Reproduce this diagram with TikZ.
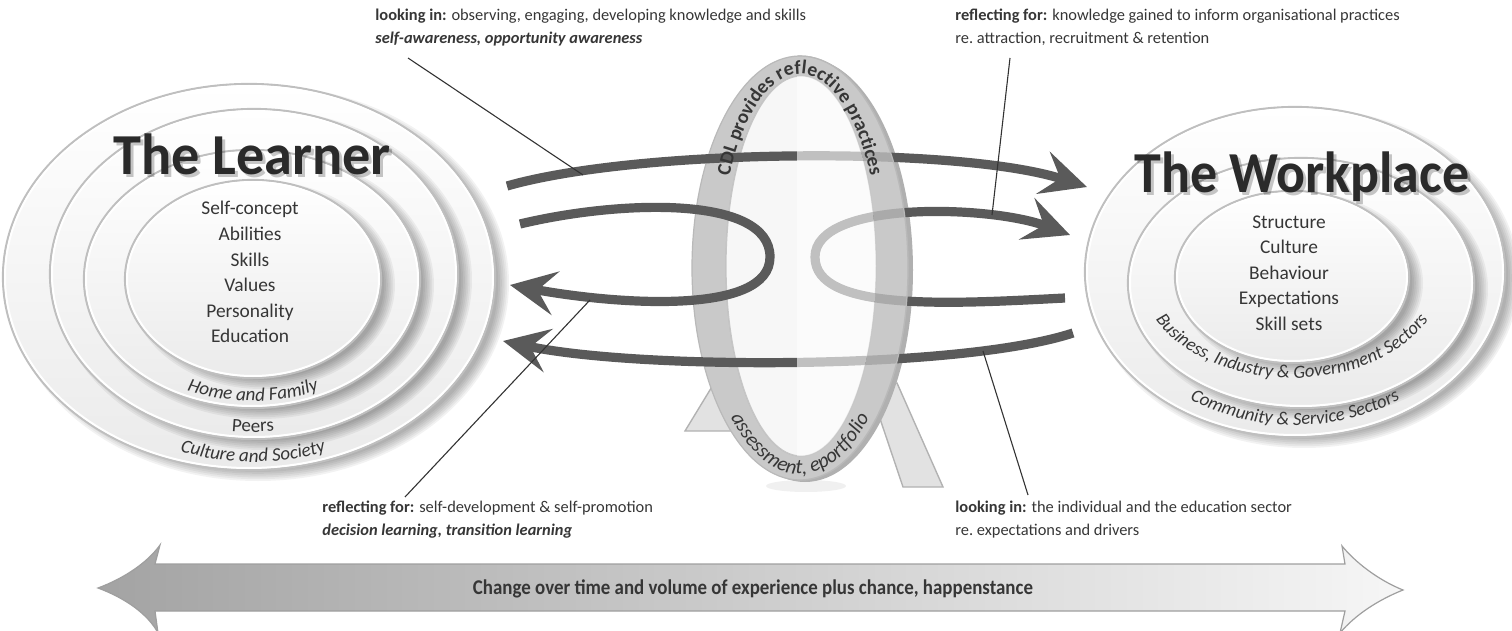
\documentclass[tikz,border=0pt]{standalone}
\usepackage{fontspec}
\setmainfont{Carlito}
\usetikzlibrary{arrows.meta,decorations.text}
\definecolor{arr}{HTML}{5A5A5A}
\definecolor{txt}{HTML}{363636}
\definecolor{ttl}{HTML}{2A2A2A}
\definecolor{ringc}{HTML}{C9C9C9}
\definecolor{legc}{HTML}{E2E2E2}
\newcommand\myring[4]{%
  \foreach \k in {0,...,6}{\fill[black,opacity=0.05] ({#1+9},{#2+6}) ellipse[x radius={#3+5-\k*1.8}, y radius={#4+5-\k*1.8}];}
  \fill[top color=white, bottom color=gray!16, draw=gray!50, line width=1.1pt] (#1,#2) ellipse[x radius=#3, y radius=#4];
  \draw[white, line width=1pt] (#1,#2) ellipse[x radius={#3-2}, y radius={#4-2}];
}
\begin{document}
\begin{tikzpicture}[x=0.5pt,y=-0.5pt,
  flow/.style={draw=arr, line width=4.6pt, -{Stealth[length=23pt,width=22pt,inset=9pt]}},
  lead/.style={draw=black!80, line width=0.55pt},
  lbl/.style={font=\fontsize{8.2}{11.5}\selectfont, text=txt, inner sep=0pt, anchor=base west},
  inlist/.style={font=\fontsize{9.7}{12.8}\selectfont, text=txt, inner sep=0pt, anchor=base},
  title/.style={font=\fontsize{29}{30}\selectfont\bfseries, text=ttl, inner sep=0pt, anchor=base}]
\useasboundingbox (0,0) rectangle (1512,631);

% ---------- The Learner ----------
\myring{249}{277}{246}{193}
\myring{254}{274}{204}{165}
\myring{252}{279}{168}{129}
\myring{253}{279}{128}{99}
\node[title, text=black, opacity=0.22] (learnersh) at (255,178) {\scalebox{0.97}[1]{The Learner}};
\node[title] (learner) at (252,175) {\scalebox{0.97}[1]{The Learner}};
\foreach \t [count=\i] in {Self-concept,Abilities,Skills,Values,Personality,Education}
  \node[inlist] (l\i) at (250,{215+25.6*(\i-1)}) {\t};
\path[decorate, decoration={text along path, text align=center,
  text={|\fontsize{9.5}{10}\selectfont\itshape\color{txt}|Home and Family}}]
  (253,279) ++(140:160 and 122) arc[start angle=140, end angle=40, x radius=160, y radius=122];
\path[decorate, decoration={text along path, text align=center,
  text={|\fontsize{9.5}{10}\selectfont\color{txt}|Peers}}]
  (253,279) ++(140:185 and 153) arc[start angle=140, end angle=40, x radius=185, y radius=153];
\path[decorate, decoration={text along path, text align=center,
  text={|\fontsize{9.5}{10}\selectfont\itshape\color{txt}|Culture and Society}}]
  (253,279) ++(140:215 and 183) arc[start angle=140, end angle=40, x radius=215, y radius=183];

% ---------- The Workplace ----------
\myring{1295}{272}{210}{165}
\myring{1301}{283}{173}{125}
\myring{1292}{277}{117}{86}
\node[title, text=black, opacity=0.22] (worksh) at (1305,196) {\scalebox{0.93}[1]{The Workplace}};
\node[title] (work) at (1302,193) {\scalebox{0.93}[1]{The Workplace}};
\foreach \t [count=\i] in {Structure,Culture,Behaviour,Expectations,Skill sets}
  \node[inlist] (w\i) at (1289,{228+25.5*(\i-1)}) {\t};
\path[decorate, decoration={text along path, text align=center,
  text={|\fontsize{9.3}{10}\selectfont\itshape\color{txt}|Business, Industry {\&} Government Sectors}}]
  (1292,277) ++(170:150 and 101) arc[start angle=170, end angle=10, x radius=150, y radius=101];
\path[decorate, decoration={text along path, text align=center,
  text={|\fontsize{9.3}{10}\selectfont\itshape\color{txt}|Community {\&} Service Sectors}}]
  (1295,285) ++(160:182 and 140) arc[start angle=160, end angle=20, x radius=182, y radius=140];

% ---------- The mirror ----------
\draw[fill=legc, draw=gray!60, line width=0.7pt] (685,431) -- (713,385) -- (745,385) -- (745,431) -- cycle;
\draw[fill=legc, draw=gray!60, line width=0.7pt] (868,383) -- (897,383) -- (943,487) -- (903,487) -- cycle;
\fill[black, opacity=0.06] (806,486) ellipse[x radius=40, y radius=6];
\fill[gray!62] (805,270) ellipse[x radius=108, y radius=212];
\fill[ringc, even odd rule, draw=gray!55, line width=0.6pt] (800,268) ellipse[x radius=108, y radius=212] (801,266) ellipse[x radius=75, y radius=190];
\fill[white!94!gray, draw=gray!45, line width=0.6pt] (801,266) ellipse[x radius=75, y radius=190];

% ---------- Flow arrows ----------
\coordinate (t0) at (507,186);   \coordinate (t1) at (1087,187);
\coordinate (p0) at (520,224);   \coordinate (pt) at (770,257); \coordinate (p1) at (510,285);
\coordinate (q0) at (1065,298);  \coordinate (qt) at (815,257); \coordinate (q1) at (1070,235);
\coordinate (b0) at (1073,333);  \coordinate (b1) at (503,341);
\draw[flow] (t0) .. controls (640,148) and (960,146) .. (t1);
\draw[flow] (p0) .. controls (620,200) and (770,195) .. (pt) .. controls (770,315) and (620,305) .. (p1);
\draw[flow] (q0) .. controls (950,304) and (815,312) .. (qt) .. controls (815,200) and (990,205) .. (q1);
\draw[flow] (b0) .. controls (960,370) and (640,370) .. (b1);
\begin{scope}
  \clip (797,0) rectangle (1000,631);
  \fill[white, opacity=0.62] (801,266) ellipse[x radius=75, y radius=190];
  \fill[ringc, opacity=0.72, even odd rule] (800,268) ellipse[x radius=108, y radius=212] (801,266) ellipse[x radius=75, y radius=190];
  \draw[gray!55, line width=0.6pt] (800,268) ellipse[x radius=108, y radius=212];
\end{scope}
\path[decorate, decoration={text along path, text align=center,
  text={|\fontsize{9.8}{10}\selectfont\bfseries\color{txt}|CDL provides reflective practices}}]
  (800,267) ++(-170:80 and 193) arc[start angle=-170, end angle=-10, x radius=80, y radius=193];
\path[decorate, decoration={text along path, text align=center,
  text={|\fontsize{10.3}{11}\selectfont\itshape\color{txt}|assessment, eportfolio}}]
  (800,267) ++(165:101 and 207) arc[start angle=165, end angle=15, x radius=101, y radius=207];

% ---------- Labels and leaders ----------
\node[lbl] (li1) at (375,21) {\textbf{looking in:} observing, engaging, developing knowledge and skills};
\node[lbl] (li2) at (375,44) {\textbf{\itshape self-awareness, opportunity awareness}};
\node[lbl] (rf1) at (955,21) {\textbf{reflecting for:} knowledge gained to inform organisational practices};
\node[lbl] (rf2) at (955,44) {re.\ attraction, recruitment \& retention};
\node[lbl] (rf3) at (322,512) {\textbf{reflecting for:} self-development \& self-promotion};
\node[lbl] (rf4) at (322,535) {\textbf{\itshape decision learning, transition learning}};
\node[lbl] (li3) at (955,512) {\textbf{looking in:} the individual and the education sector};
\node[lbl] (li4) at (955,535) {re.\ expectations and drivers};
\coordinate (c1a) at (408,58);   \coordinate (c1b) at (583,175);
\coordinate (c2a) at (1010,58);  \coordinate (c2b) at (992,215);
\coordinate (c3a) at (405,497);  \coordinate (c3b) at (590,300);
\coordinate (c4a) at (1028,495); \coordinate (c4b) at (983,351);
\draw[lead] (c1a) -- (c1b);
\draw[lead] (c2a) -- (c2b);
\draw[lead] (c3a) -- (c3b);
\draw[lead] (c4a) -- (c4b);

% ---------- Bottom double arrow ----------
\path[left color=gray!72, right color=gray!7, draw=gray!75, line width=0.6pt]
  (98,588) .. controls (125,578) and (148,562) .. (160,545) -- (155,564) -- (1345,564) -- (1342,546)
  .. controls (1355,562) and (1378,580) .. (1403,590)
  .. controls (1378,600) and (1355,615) .. (1340,633) -- (1345,611) -- (155,611) -- (158,633)
  .. controls (148,614) and (125,598) .. (98,588) -- cycle;
\node[font=\fontsize{10.5}{12}\selectfont\bfseries, text=txt, inner sep=0pt] (chg) at (753,589)
  {\scalebox{0.9}[1]{Change over time and volume of experience plus chance, happenstance}};
\end{tikzpicture}
\end{document}
